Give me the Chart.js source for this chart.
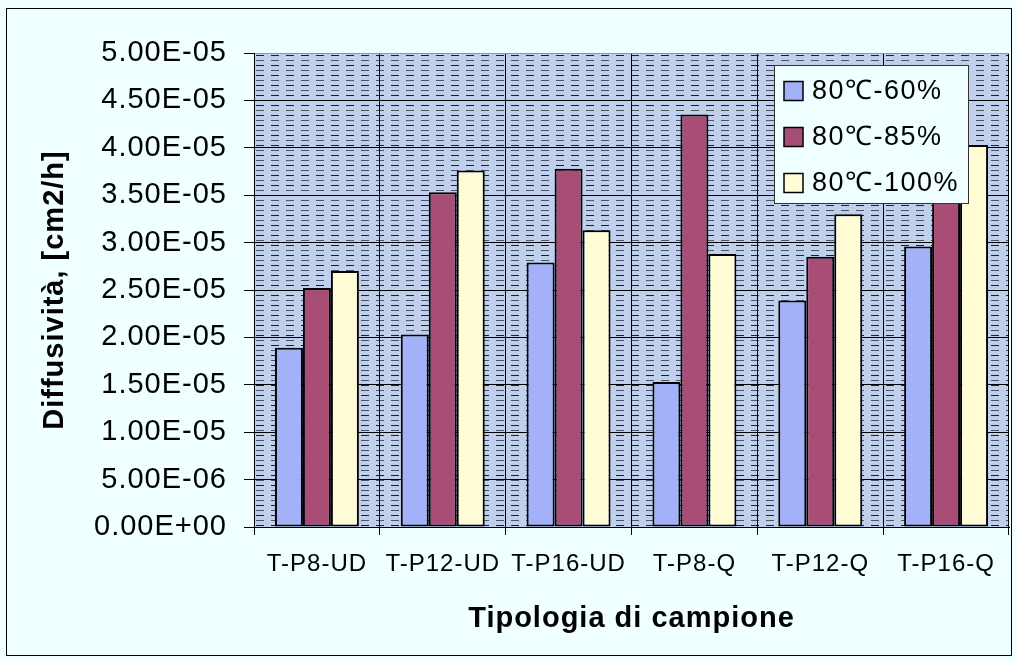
<!DOCTYPE html>
<html>
<head>
<meta charset="utf-8">
<script src="https://cdn.jsdelivr.net/npm/chart.js@4.4.1/dist/chart.umd.min.js"></script>
<style>
  html, body { margin: 0; padding: 0; background: #f0ffff; }
  canvas { display: block; }
</style>
</head>
<body>
<canvas id="chart" width="1016" height="661"></canvas>
<script>
// Diffusivity by specimen type at 80 °C and three humidity levels
const categories = ['T-P8-UD', 'T-P12-UD', 'T-P16-UD', 'T-P8-Q', 'T-P12-Q', 'T-P16-Q'];
const seriesNames = ['80℃-60%', '80℃-85%', '80℃-100%'];
const rh60  = [1.89e-5, 2.03e-5, 2.79e-5, 1.53e-5, 2.39e-5, 2.96e-5];
const rh85  = [2.52e-5, 3.53e-5, 3.78e-5, 4.35e-5, 2.85e-5, 3.65e-5];
const rh100 = [2.70e-5, 3.76e-5, 3.13e-5, 2.88e-5, 3.30e-5, 4.03e-5];
const yTickLabels = ['0.00E+00', '5.00E-06', '1.00E-05', '1.50E-05', '2.00E-05', '2.50E-05',
                     '3.00E-05', '3.50E-05', '4.00E-05', '4.50E-05', '5.00E-05'];
const yStep = 5e-6;
const yMax = 5e-5;

const seriesColors = ['#a3b1f8', '#a84d76', '#fffcd6'];
const FONT = "'Liberation Sans', Arial, sans-serif";

// Dashed horizontal fill used behind the bars
function makeDashPattern(ctx) {
  const c = document.createElement('canvas');
  c.width = 15; c.height = 10;
  const p = c.getContext('2d');
  p.fillStyle = '#c0d0ec';
  p.fillRect(0, 0, 15, 10);
  p.fillStyle = '#1c1f2c';
  p.fillRect(2, 2, 8, 1);
  p.fillStyle = '#4c5568';
  p.fillRect(2, 7, 8, 1);
  return ctx.createPattern(c, 'repeat');
}

const frame = {
  id: 'frame',
  beforeUpdate(chart) { chart.ctx.letterSpacing = '1px'; },
  beforeDraw(chart) {
    const { ctx, chartArea: a, width, height } = chart;
    ctx.save();
    ctx.fillStyle = '#f0ffff';
    ctx.fillRect(0, 0, width, height);
    ctx.strokeStyle = '#000';
    ctx.lineWidth = 1;
    ctx.strokeRect(6.5, 8.5, width - 11, height - 14);
    ctx.translate(a.left, a.top);
    ctx.fillStyle = makeDashPattern(ctx);
    ctx.fillRect(0, 0, a.right - a.left, a.bottom - a.top);
    ctx.restore();
    ctx.letterSpacing = '1px';
  },
  afterDraw(chart) {
    const { ctx, chartArea: a } = chart;
    const ds = chart.data.datasets;
    const boxW = 194, boxH = 138;
    const bx = a.right - 235, by = a.top + 12;
    ctx.save();
    ctx.fillStyle = '#f0ffff';
    ctx.fillRect(bx, by, boxW, boxH);
    ctx.strokeStyle = '#333';
    ctx.lineWidth = 1;
    ctx.strokeRect(bx + 0.5, by + 0.5, boxW, boxH);
    ctx.font = '27px ' + FONT;
    ctx.letterSpacing = '1.5px';
    ctx.textBaseline = 'middle';
    ctx.textAlign = 'left';
    ds.forEach((d, i) => {
      const cy = by + 26 + i * 46;
      ctx.fillStyle = d.backgroundColor;
      ctx.fillRect(bx + 10, cy - 9.5, 19, 19);
      ctx.strokeStyle = '#000';
      ctx.lineWidth = 1.5;
      ctx.strokeRect(bx + 10, cy - 9.5, 19, 19);
      ctx.fillStyle = '#000';
      ctx.fillText(d.label, bx + 38, cy + 1);
    });
    ctx.restore();
  }
};

const values = [rh60, rh85, rh100];

new Chart(document.getElementById('chart'), {
  type: 'bar',
  data: {
    labels: categories,
    datasets: seriesNames.map((name, i) => ({
      label: name,
      data: values[i],
      backgroundColor: seriesColors[i],
      borderColor: '#000',
      borderWidth: 2,
      borderSkipped: false,
      categoryPercentage: 0.667,
      barPercentage: 1.0
    }))
  },
  options: {
    responsive: false,
    animation: false,
    devicePixelRatio: 1,
    layout: { padding: { top: 53, right: 7, left: 0, bottom: 0 } },
    plugins: {
      legend: { display: false },
      tooltip: { enabled: false }
    },
    scales: {
      x: {
        offset: true,
        grid: {
          offset: true,
          color: (c) => c.index === categories.length ? '#8a94a8' : '#000',
          lineWidth: 1,
          tickLength: 8,
          tickColor: '#000'
        },
        border: { color: '#000', width: 1 },
        ticks: {
          color: '#000',
          font: { family: FONT, size: 24 },
          padding: 15,
          maxRotation: 0,
          autoSkip: false
        },
        title: {
          display: true,
          text: 'Tipologia di campione',
          color: '#000',
          font: { family: FONT, size: 29, weight: 'bold' },
          padding: { top: 0, bottom: 25 }
        },
        afterFit(s) { s.height = 134; }
      },
      y: {
        min: 0,
        max: yMax,
        ticks: {
          stepSize: yStep,
          color: '#000',
          font: { family: FONT, size: 29 },
          padding: 17,
          callback: (v) => yTickLabels[Math.round(v / yStep)]
        },
        grid: {
          color: (c) => (c.tick && Math.abs(c.tick.value - yMax) < 1e-12) ? '#8a94a8' : '#000',
          tickColor: '#000',
          lineWidth: 1,
          tickLength: 10
        },
        border: { color: '#000', width: 1 },
        title: {
          display: true,
          text: 'Diffusività, [cm2/h]',
          color: '#000',
          font: { family: FONT, size: 29, weight: 'bold' },
          padding: { top: 38, bottom: 0 }
        },
        afterFit(s) { s.width = 254; }
      }
    }
  },
  plugins: [frame]
});
</script>
</body>
</html>
